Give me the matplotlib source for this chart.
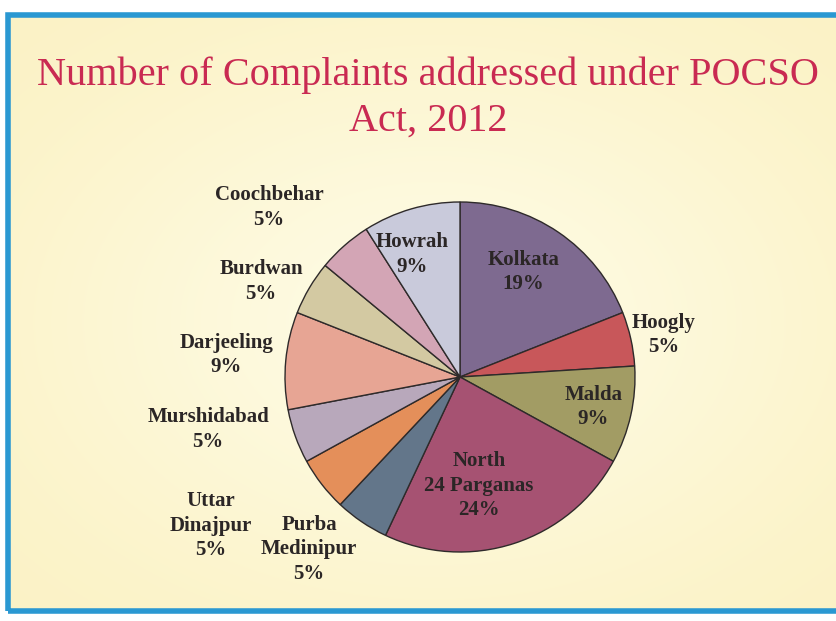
import numpy as np
import matplotlib
matplotlib.use("Agg")
import matplotlib.pyplot as plt
from matplotlib.patches import Rectangle

# data
districts = ["Kolkata", "Hoogly", "Malda", "North\n24 Parganas", "Purba\nMedinipur",
             "Uttar\nDinajpur", "Murshidabad", "Darjeeling", "Burdwan", "Coochbehar", "Howrah"]
shares = [19, 5, 9, 24, 5, 5, 5, 9, 5, 5, 9]
colors = ["#7e6a90", "#c8575a", "#a29c64", "#a65272", "#63768a", "#e48f5a",
          "#b8a8bb", "#e7a594", "#d3c9a2", "#d3a5b5", "#c9cadb"]

# label placement (distance from centre in radii, angle nudge in degrees)
label_dist = [0.70, 1.19, 0.78, 0.63, 1.31, 1.66, 1.47, 1.34, 1.26, 1.46, 0.75]
label_nudge = [3, -1, 0, -8, -7, -7, -8, 0, 5, 7, 5]

W, H = 836, 621
fig = plt.figure(figsize=(W / 100, H / 100), dpi=100)
ax = fig.add_axes([0, 0, 1, 1])
ax.set_xlim(0, W)
ax.set_ylim(0, H)
ax.axis("off")

# pale yellow background with a lighter glow in the middle
yy, xx = np.mgrid[0:H, 0:W]
glow = np.exp(-(((xx - 430) / 420.0) ** 2 + ((yy - 300) / 300.0) ** 2))
base = np.array([0.985, 0.945, 0.76])
light = np.array([0.995, 0.985, 0.89])
img = base + (light - base) * glow[..., None]
ax.imshow(img, extent=[8, W, 10, H - 15], origin="lower", zorder=0, aspect="auto")
ax.add_patch(Rectangle((8, 10), W, H - 25, fill=False, edgecolor="#2a98d2", lw=4, zorder=1))

# title
ax.text(428, H - 75, "Number of Complaints addressed under POCSO", ha="center", va="center",
        fontsize=29, color="#c92a52", family="Liberation Serif", zorder=3)
ax.text(428, H - 121, "Act, 2012", ha="center", va="center",
        fontsize=29, color="#c92a52", family="Liberation Serif", zorder=3)

# pie
cx, cy, R = 460, H - 377, 175
wedges, _ = ax.pie(shares, colors=colors, startangle=90, counterclock=False,
                   center=(cx, cy), radius=R, frame=True,
                   wedgeprops=dict(edgecolor="#2e2a2a", linewidth=1.0))
ax.set_xlim(0, W)
ax.set_ylim(0, H)
ax.set_aspect("auto")
ax.axis("off")
for w in wedges:
    w.set_zorder(2)

for w, name, val, d, nud in zip(wedges, districts, shares, label_dist, label_nudge):
    mid = np.deg2rad((w.theta1 + w.theta2) / 2 + nud)
    x = cx + d * R * np.cos(mid)
    y = cy + d * R * np.sin(mid)
    ax.text(x, y, f"{name}\n{val}%", ha="center", va="center", fontsize=15,
            fontweight="bold", color="#2b2626", family="Liberation Serif",
            linespacing=1.3, zorder=4)

fig.savefig("out.png", dpi=100, facecolor="white")
